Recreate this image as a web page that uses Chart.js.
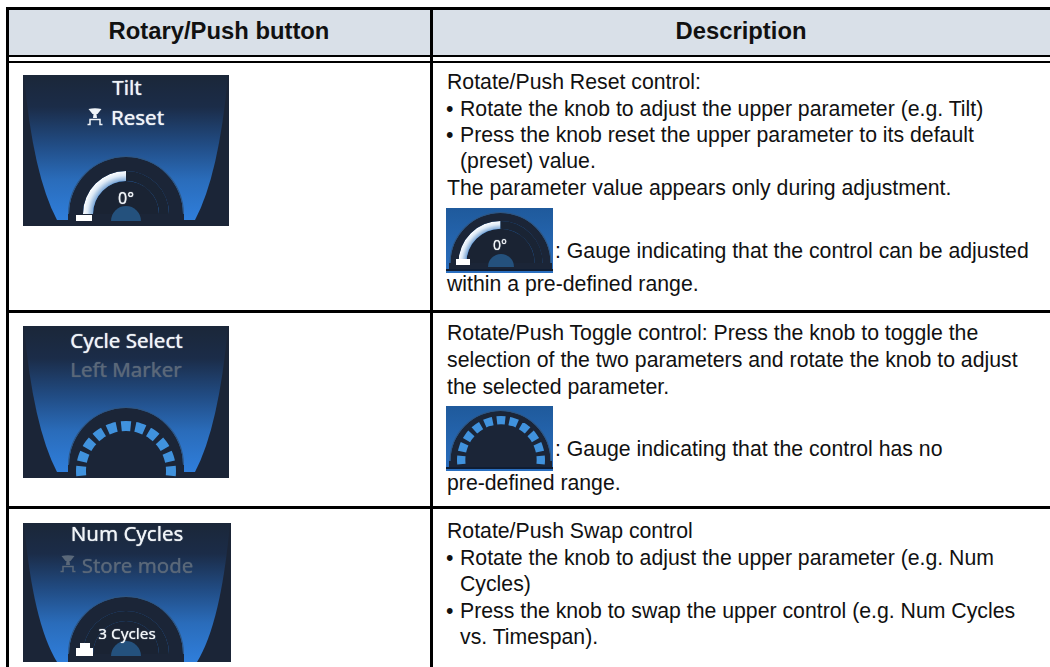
<!DOCTYPE html>
<html>
<head>
<meta charset="utf-8">
<title>Rotary/Push button</title>
<script src="https://cdn.jsdelivr.net/npm/chart.js@4"></script>
<style>
html, body { margin: 0; background: #fff; }
#stage { position: relative; width: 1050px; height: 667px; overflow: hidden; font-family: "Liberation Sans", Arial, sans-serif; color: #111; }
#stage div, #stage canvas, #stage svg { position: absolute; }
.line { font-size: 21.25px; line-height: 24px; white-space: nowrap; }
.head { font-size: 23.8px; font-weight: bold; line-height: 28px; white-space: nowrap; text-align: center; }
.ui { font-family: "Noto Sans", sans-serif; text-align: center; white-space: nowrap; line-height: 24px; text-shadow: 0 0 1px currentColor; }
</style>
</head>
<body>
<div id="stage"></div>
<script>
// table text
const headers = ['Rotary/Push button', 'Description'];
const row1Lines = ['Rotate/Push Reset control:', 'Rotate the knob to adjust the upper parameter (e.g. Tilt)',
    'Press the knob reset the upper parameter to its default', '(preset) value.',
    'The parameter value appears only during adjustment.',
    ': Gauge indicating that the control can be adjusted', 'within a pre-defined range.'];
const row2Lines = ['Rotate/Push Toggle control: Press the knob to toggle the',
    'selection of the two parameters and rotate the knob to adjust', 'the selected parameter.',
    ': Gauge indicating that the control has no', 'pre-defined range.'];
const row3Lines = ['Rotate/Push Swap control', 'Rotate the knob to adjust the upper parameter (e.g. Num',
    'Cycles)', 'Press the knob to swap the upper control (e.g. Num Cycles', 'vs. Timespan).'];

// gauge values, in degrees of the dial
const tiltArc = [90, 90];
const knobFill = [180];
const cycleSegments = [12, 6, 12, 6, 12, 6, 12, 6, 12, 6, 12, 6, 12, 6, 12, 6, 12, 6, 12, 6, 12, 168];

const stage = document.getElementById('stage');

function box(x, y, w, h, css) {
    const d = document.createElement('div');
    d.style.cssText = 'left:' + x + 'px;top:' + y + 'px;width:' + w + 'px;height:' + h + 'px;' + (css || '');
    stage.appendChild(d);
    return d;
}

function line(x, cy, str) {
    const d = document.createElement('div');
    d.className = 'line';
    d.style.left = x + 'px';
    d.style.top = (cy - 12) + 'px';
    d.textContent = str;
    stage.appendChild(d);
}

function bullet(x, cy, str) {
    line(x - 1, cy, '\u2022');
    line(x + 13, cy, str);
}

function uiText(cx, cy, str, size, color) {
    const d = document.createElement('div');
    d.className = 'ui';
    d.style.cssText = 'left:' + (cx - 100) + 'px;top:' + (cy - 12) + 'px;width:200px;font-size:' + size + 'px;color:' + color + ';';
    d.textContent = str;
    stage.appendChild(d);
}

function newCanvas(x, y, w, h) {
    const c = document.createElement('canvas');
    c.width = w;
    c.height = h;
    c.style.left = x + 'px';
    c.style.top = y + 'px';
    stage.appendChild(c);
    return c;
}

function dial(canvas, datasets, rotation, circumference, cutout) {
    return new Chart(canvas, {
        type: 'doughnut',
        data: { datasets: datasets },
        options: {
            responsive: false,
            animation: false,
            rotation: rotation,
            circumference: circumference,
            cutout: cutout,
            borderWidth: 0,
            layout: { padding: 0 },
            plugins: { legend: { display: false }, tooltip: { enabled: false } }
        }
    });
}

// half dial sitting on (cx, cy): rim, knob ring, the value arc, then the inner disc
function knob(cx, cy, r, arcWeights, arcData) {
    const c = newCanvas(cx - r, cy - r, r * 2, r);
    const ctx = c.getContext('2d');
    const outer = r - arcWeights[0];
    const inner = outer - arcWeights[1];
    const g = ctx.createRadialGradient(r, r, inner, r, r, outer);
    g.addColorStop(0, '#7ea8d6');
    g.addColorStop(0.55, '#dce9f6');
    g.addColorStop(1, '#ffffff');
    dial(c, [
        { data: knobFill, backgroundColor: ['#2f5682'], weight: 1 },
        { data: knobFill, backgroundColor: ['#1b2537'], weight: arcWeights[0] - 1 },
        { data: arcData, backgroundColor: [g, '#1a2434'], weight: arcWeights[1] },
        { data: knobFill, backgroundColor: ['#1a2333'], weight: inner }
    ], -90, 180, 0);
}

function plainKnob(x, y, r) {
    dial(newCanvas(x, y, r * 2, r), [
        { data: knobFill, backgroundColor: ['#2f5682'], weight: 1 },
        { data: knobFill, backgroundColor: ['#1b2537'], weight: r - 1 }
    ], -90, 180, 0);
}

function hub(cx, cy, r) {
    dial(newCanvas(cx - r, cy - r, r * 2, r), [{ data: knobFill, backgroundColor: ['#24517d'] }], -90, 180, 0);
}

function segments(cx, cy, r, cut) {
    dial(newCanvas(cx - r, cy - r, r * 2, r * 2), [{
        data: cycleSegments,
        backgroundColor: cycleSegments.map((v, i) => (i % 2 === 0 && i < 21) ? '#4092dd' : 'rgba(0,0,0,0)')
    }], -96, 360, cut);
}

function resetIcon(x, y, color) {
    const ns = 'http://www.w3.org/2000/svg';
    const s = document.createElementNS(ns, 'svg');
    s.setAttribute('width', 16);
    s.setAttribute('height', 18);
    s.style.left = x + 'px';
    s.style.top = y + 'px';
    s.innerHTML = '<path d="M1.5 1 Q8 -0.5 14.5 1 L10.5 6 H5.5 Z M6.5 6 H9.5 L10 10 H6 Z" fill="' + color + '"/>' +
        '<path d="M0.5 16.5 H3 V11.5 H13 V16.5 H15.5" stroke="' + color + '" stroke-width="1.5" fill="none"/>';
    stage.appendChild(s);
}

const shieldFill = 'linear-gradient(#1b2739 0%, #1b2c48 22%, #214c84 48%, #2a6cba 72%, #2f7edb 100%)';

// button picture: dark panel with the blue shield behind the knob
function panel(x, y, w, h, floor) {
    box(x, y, w, h, 'background:#1b2537;overflow:hidden;');
    const p = 'M1 0 Q10 100 34 ' + floor + ' L' + (w - 34) + ' ' + floor + ' Q' + (w - 10) + ' 100 ' + (w - 1) + ' 0 Z';
    box(x, y, w, floor, 'background:' + shieldFill + ';clip-path:path("' + p + '");');
}

// grid
box(0, 7, 1050, 48, 'background:#d9e0e8;');
box(6, 7, 1044, 2.6, 'background:#000;');
box(6, 55, 1044, 2.4, 'background:#000;');
box(6, 60.5, 1044, 2.2, 'background:#000;');
box(6, 7, 3, 660, 'background:#000;');
box(429.5, 7, 3, 660, 'background:#000;');
box(6, 309.5, 1044, 3, 'background:#000;');
box(6, 505.5, 1044, 3, 'background:#000;');
box(0, 7, 6, 48, 'background:#fff;');

const h1 = box(9, 17, 420, 28);
h1.className = 'head';
h1.textContent = headers[0];
const h2 = box(432, 17, 618, 28);
h2.className = 'head';
h2.textContent = headers[1];

// row 1 description
line(447, 81.7, row1Lines[0]);
bullet(447, 108.7, row1Lines[1]);
bullet(447, 135.3, row1Lines[2]);
line(460, 161, row1Lines[3]);
line(447, 187.6, row1Lines[4]);
line(555, 251, row1Lines[5]);
line(447, 284.3, row1Lines[6]);

// row 2 description
line(447, 332.6, row2Lines[0]);
line(447, 359.6, row2Lines[1]);
line(447, 386.6, row2Lines[2]);
line(555, 448.7, row2Lines[3]);
line(447, 483, row2Lines[4]);

// row 3 description
line(447, 531.3, row3Lines[0]);
bullet(447, 557.8, row3Lines[1]);
line(460, 584, row3Lines[2]);
bullet(447, 610.7, row3Lines[3]);
line(460, 637.3, row3Lines[4]);

// Tilt picture
panel(23, 75, 206, 151, 145);
box(68, 214, 116, 12, 'background:#1b2537;');
box(23, 220, 206, 6, 'background:#1b2537;');
knob(126, 214, 58, [15, 10], tiltArc);
hub(126, 221, 15);
box(76, 215, 16, 6, 'background:#fff;');
uiText(127, 87, 'Tilt', 20.5, '#f0f4f8');
uiText(137.5, 117, 'Reset', 20.5, '#f0f4f8');
resetIcon(87, 108, '#f0f4f8');
uiText(126, 198, '0\u00b0', 16, '#f0f4f8');

// Cycle Select picture
panel(23, 326, 206, 152, 146);
box(68, 465, 116, 13, 'background:#1b2537;');
box(23, 472, 206, 6, 'background:#1b2537;');
plainKnob(68, 407, 58);
segments(126, 471, 50, '80%');
uiText(126.5, 340, 'Cycle Select', 20.5, '#f0f4f8');
uiText(126, 369, 'Left Marker', 20.5, '#5a6879');

// Num Cycles picture
panel(23, 523, 208, 139, 139);
box(68, 654, 116, 8, 'background:#1b2537;');
knob(126, 654, 58, [15, 10], [0, 180]);
hub(126, 656, 15);
box(80, 643, 10, 5, 'background:#fff;');
box(76, 648, 17, 8, 'background:#fff;');
uiText(127, 533, 'Num Cycles', 20.5, '#f0f4f8');
uiText(137.5, 565, 'Store mode', 20.5, '#5a6879');
resetIcon(60, 555, '#5a6879');
uiText(127, 633, '3 Cycles', 15.3, '#f0f4f8');

// small gauge, row 1
box(446, 208, 107, 65, 'background:linear-gradient(#1f5a9c, #2a6fc0);');
box(449, 263, 103, 6, 'background:#1b2537;');
knob(500.5, 263, 51.5, [9, 8], tiltArc);
hub(500.5, 267, 13);
box(456, 259, 14, 6, 'background:#fff;');
uiText(500, 245, '0\u00b0', 14, '#f0f4f8');
box(446, 269, 107, 2, 'background:#0f1d33;');

// small gauge, row 2
box(446, 406, 107, 65, 'background:linear-gradient(#1f5a9c, #2a6fc0);');
box(449, 461, 103, 6, 'background:#1b2537;');
plainKnob(449, 410, 51.5);
segments(500.5, 460, 44, '81%');
box(446, 467, 107, 2, 'background:#0f1d33;');
</script>
</body>
</html>
